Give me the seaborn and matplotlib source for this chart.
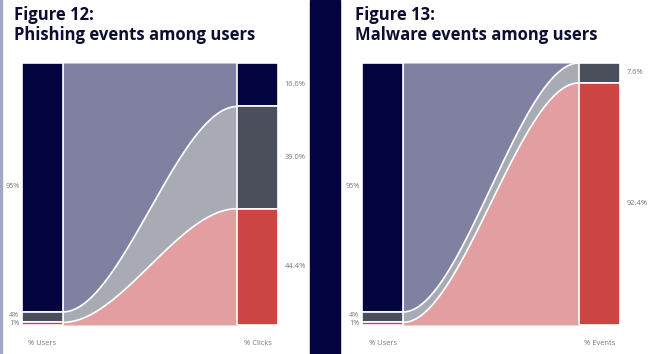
import numpy as np
import matplotlib
matplotlib.use("Agg")
import matplotlib.pyplot as plt
from matplotlib.patches import Rectangle
import seaborn as sns

sns.set_theme(style="white")
plt.rcParams['font.family'] = ['Open Sans', 'DejaVu Sans']

# data
users = [95, 4, 1]
clicks = [16.6, 39.0, 44.4]
events = [0, 7.6, 92.4]
user_labels = ["95%", "4%", "1%"]
click_labels = ["16.6%", "39.0%", "44.4%"]
event_labels = ["", "7.6%", "92.4%"]

bar_colors = ["#03033f", "#4b4f5b", "#cb4643"]
flow_colors = ["#8081a1", "#a8abb3", "#e39ea1"]

W, H = 651, 354
fig = plt.figure(figsize=(W / 100, H / 100), dpi=100)
fig.patch.set_facecolor("white")

# dark stripe between panels + thin left border
fig.patches.append(Rectangle((310 / W, 0), 30 / W, 1, transform=fig.transFigure,
                             color="#03033f", zorder=0))
fig.patches.append(Rectangle((0, 0), 2 / W, 1, transform=fig.transFigure,
                             color="#a3a6c4", zorder=0))


def smooth(t):
    return 3 * t ** 2 - 2 * t ** 3


def draw_panel(ax, left, right, left_lab, right_lab, xlab_left, xlab_right):
    bw = 0.16
    x0, x1 = bw, 1 - bw
    ltop = np.concatenate([[0], np.cumsum(left)[:-1]])
    rtop = np.concatenate([[0], np.cumsum(right)[:-1]])
    lbot = np.cumsum(left)
    rbot = np.cumsum(right)

    xs = np.linspace(x0, x1, 300)
    s = smooth((xs - x0) / (x1 - x0))
    for i in range(len(left)):
        top = ltop[i] + (rtop[i] - ltop[i]) * s
        bot = lbot[i] + (rbot[i] - lbot[i]) * s
        ax.fill_between(xs, top, bot, color=flow_colors[i], lw=0, zorder=1)
        if i > 0:
            ax.plot(xs, top, color="white", lw=1.2, zorder=2)

    ax.bar([bw / 2] * 3, left, bottom=ltop, width=bw, color=bar_colors,
           edgecolor="white", linewidth=1.2, zorder=3)
    ax.bar([1 - bw / 2] * 3, right, bottom=rtop, width=bw, color=bar_colors,
           edgecolor="white", linewidth=1.2, zorder=3)

    # labels on the left
    ly = [47, 96.2, 99.6]
    for lab, y in zip(left_lab, ly):
        ax.text(-0.01, y, lab, ha="right", va="center", fontsize=5.2, color="#777777")
    for lab, t, v in zip(right_lab, rtop, right):
        if lab:
            ax.text(1.025, t + v / 2, lab, ha="left", va="center", fontsize=5.4, color="#777777")

    ax.text(bw / 2, 107, xlab_left, ha="center", va="center", fontsize=5.4, color="#777777")
    ax.text(1 - bw / 2, 107, xlab_right, ha="center", va="center", fontsize=5.4, color="#777777")

    ax.set_xlim(0, 1)
    ax.set_ylim(100, 0)
    ax.set_axis_off()


ax1 = fig.add_axes([22 / W, (H - 325) / H, 256 / W, 262 / H])
ax2 = fig.add_axes([362 / W, (H - 325) / H, 258 / W, 262 / H])

draw_panel(ax1, users, clicks, user_labels, click_labels, "% Users", "% Clicks")
draw_panel(ax2, users, events, user_labels, event_labels, "% Users", "% Events")

fig.text(14 / W, 1 - 6 / H, "Figure 12:\nPhishing events among users", ha="left", va="top",
         fontsize=12, fontweight="bold", color="#0d0d33", linespacing=1.15)
fig.text(355 / W, 1 - 6 / H, "Figure 13:\nMalware events among users", ha="left", va="top",
         fontsize=12, fontweight="bold", color="#0d0d33", linespacing=1.15)

fig.savefig("out.png", dpi=100)
